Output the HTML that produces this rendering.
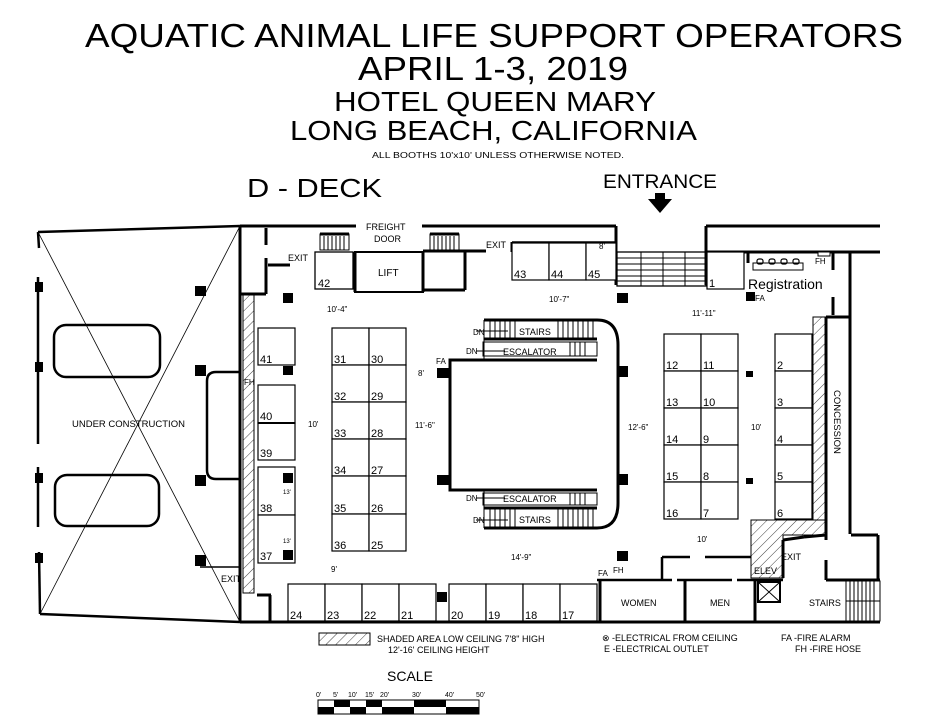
<!DOCTYPE html>
<html><head><meta charset="utf-8"><style>
html,body{margin:0;padding:0;background:#fff}
svg{display:block}
text{font-family:"Liberation Sans",Arial,sans-serif;fill:#000}
</style></head><body>
<svg width="933" height="719" viewBox="0 0 933 719" xmlns="http://www.w3.org/2000/svg">
<defs>
<pattern id="h" patternUnits="userSpaceOnUse" width="7" height="7" patternTransform="rotate(45)">
<rect width="7" height="7" fill="#fff"/><line x1="0" y1="0" x2="0" y2="7" stroke="#444" stroke-width="1"/>
</pattern>
</defs>
<!-- titles -->
<text x="85" y="47" font-size="33" textLength="818" lengthAdjust="spacingAndGlyphs">AQUATIC ANIMAL LIFE SUPPORT OPERATORS</text>
<text x="358" y="80" font-size="33" textLength="270" lengthAdjust="spacingAndGlyphs">APRIL 1-3, 2019</text>
<text x="334" y="111" font-size="28" textLength="322" lengthAdjust="spacingAndGlyphs">HOTEL QUEEN MARY</text>
<text x="290" y="140" font-size="28" textLength="407" lengthAdjust="spacingAndGlyphs">LONG BEACH, CALIFORNIA</text>
<text x="372" y="158" font-size="8" textLength="252" lengthAdjust="spacingAndGlyphs">ALL BOOTHS 10'x10' UNLESS OTHERWISE NOTED.</text>
<text x="247" y="197" font-size="26" textLength="135" lengthAdjust="spacingAndGlyphs">D - DECK</text>
<text x="603" y="188" font-size="19" textLength="114" lengthAdjust="spacingAndGlyphs">ENTRANCE</text>
<polygon points="648,199 672,199 660,213" fill="#000"/>
<rect x="655" y="193" width="10" height="7" fill="#000"/>

<g fill="none" stroke="#000">
<!-- under construction area -->
<polyline points="38,232 240,226" stroke-width="2.5"/>
<polyline points="40,614 240,622" stroke-width="2.5"/>
<line x1="38" y1="232" x2="240" y2="622" stroke-width="0.8"/>
<line x1="40" y1="614" x2="240" y2="226" stroke-width="0.8"/>
<line x1="38" y1="232" x2="39" y2="248" stroke-width="2.5"/>
<line x1="38" y1="277" x2="38" y2="444" stroke-width="2.5"/>
<line x1="38" y1="467" x2="38" y2="527" stroke-width="2.5"/>
<line x1="39" y1="552" x2="40" y2="614" stroke-width="2.5"/>
<rect x="54" y="325" width="106" height="52" rx="12" stroke-width="2.5"/>
<rect x="55" y="475" width="104" height="51" rx="12" stroke-width="2.5"/>
<path d="M241,372 H216 Q207,372 207,381 V470 Q207,479 216,479 H241" stroke-width="2.5"/>
<line x1="200" y1="567" x2="241" y2="567" stroke-width="1.5"/>
<!-- main walls -->
<line x1="240" y1="226" x2="356" y2="226" stroke-width="3"/>
<line x1="422" y1="226" x2="616" y2="226" stroke-width="3"/>
<line x1="706" y1="226" x2="880" y2="226" stroke-width="3"/>
<line x1="706" y1="252" x2="880" y2="252" stroke-width="3"/>
<line x1="240" y1="226" x2="240" y2="622" stroke-width="3"/>
<line x1="240" y1="622" x2="880" y2="622" stroke-width="3"/>
<line x1="241" y1="294" x2="266" y2="294" stroke-width="3"/>
<line x1="266" y1="228" x2="266" y2="245" stroke-width="3"/>
<line x1="266" y1="258" x2="266" y2="294" stroke-width="3"/>
<line x1="268" y1="265" x2="290" y2="265" stroke-width="3"/>
<line x1="466" y1="226" x2="466" y2="247" stroke-width="0"/>
<line x1="616" y1="226" x2="616" y2="285" stroke-width="3"/>
<line x1="706" y1="226" x2="706" y2="285" stroke-width="3"/>
<line x1="446" y1="251" x2="466" y2="251" stroke-width="3"/>
<line x1="466" y1="251" x2="512" y2="251" stroke-width="0"/>
<line x1="466" y1="251" x2="486" y2="251" stroke-width="3"/>
<line x1="512" y1="242" x2="512" y2="252" stroke-width="3"/>
<line x1="512" y1="242" x2="616" y2="242" stroke-width="1.5"/>
<!-- freight stairs -->
<rect x="320" y="234" width="29" height="16" stroke-width="1"/>
<rect x="430" y="234" width="29" height="16" stroke-width="1"/>
<line x1="320" y1="234" x2="349" y2="234" stroke-width="3"/>
<line x1="430" y1="234" x2="459" y2="234" stroke-width="3"/>
<!-- lift -->
<rect x="355" y="252" width="68" height="40" stroke-width="2"/>
<line x1="355" y1="252" x2="355" y2="292" stroke-width="3"/>
<line x1="423" y1="252" x2="423" y2="292" stroke-width="3"/>
<line x1="423" y1="251" x2="465" y2="251" stroke-width="3"/>
<line x1="465" y1="251" x2="465" y2="290" stroke-width="3"/>
<line x1="423" y1="290" x2="465" y2="290" stroke-width="3"/>
<rect x="315" y="252" width="38" height="37" stroke-width="1.3"/>
<!-- entrance stairs -->
<rect x="617" y="252" width="89" height="34" stroke-width="1.3"/>
</g>
<g stroke="#000" stroke-width="1">
<line x1="617" y1="258" x2="706" y2="258"/><line x1="617" y1="264" x2="706" y2="264"/><line x1="617" y1="270" x2="706" y2="270"/><line x1="617" y1="276" x2="706" y2="276"/><line x1="617" y1="281" x2="706" y2="281"/>
<line x1="641" y1="252" x2="641" y2="286"/><line x1="663" y1="252" x2="663" y2="286"/><line x1="685" y1="252" x2="685" y2="286"/>
</g>
<!-- freight stair rungs -->
<g stroke="#000" stroke-width="1">
<line x1="324" y1="236" x2="324" y2="250"/><line x1="328" y1="236" x2="328" y2="250"/><line x1="332" y1="236" x2="332" y2="250"/><line x1="336" y1="236" x2="336" y2="250"/><line x1="340" y1="236" x2="340" y2="250"/><line x1="344" y1="236" x2="344" y2="250"/>
<line x1="434" y1="236" x2="434" y2="250"/><line x1="438" y1="236" x2="438" y2="250"/><line x1="442" y1="236" x2="442" y2="250"/><line x1="446" y1="236" x2="446" y2="250"/><line x1="450" y1="236" x2="450" y2="250"/><line x1="454" y1="236" x2="454" y2="250"/>
</g>

<!-- hatched areas -->
<rect x="243" y="295" width="11" height="298" fill="url(#h)" stroke="#000" stroke-width="1"/>
<rect x="813" y="317" width="13" height="218" fill="url(#h)" stroke="#000" stroke-width="1"/>
<polygon points="751,520 826,520 826,535 783,535 783,578 751,578" fill="url(#h)" stroke="#000" stroke-width="1"/>

<!-- right side walls -->
<g fill="none" stroke="#000" stroke-width="3">
<line x1="850" y1="252" x2="850" y2="534"/>
<line x1="826" y1="317" x2="850" y2="317"/>
<line x1="826" y1="317" x2="826" y2="540"/>
<line x1="833" y1="252" x2="833" y2="270"/>
<line x1="833" y1="297" x2="833" y2="315"/>
<line x1="748" y1="252" x2="748" y2="263"/>
<line x1="851" y1="535" x2="878" y2="535"/><line x1="878" y1="535" x2="878" y2="580"/>
<line x1="783" y1="540" x2="804" y2="537"/><line x1="804" y1="537" x2="826" y2="535"/>
<line x1="783" y1="540" x2="783" y2="578"/>
<line x1="826" y1="560" x2="826" y2="580"/>
<line x1="826" y1="580" x2="880" y2="580"/>
<line x1="597" y1="580" x2="672" y2="580" stroke-width="2.5"/>
<line x1="677" y1="580" x2="732" y2="580" stroke-width="2.5"/>
<line x1="737" y1="580" x2="783" y2="580" stroke-width="2.5"/>
<line x1="600" y1="580" x2="600" y2="622"/>
<line x1="685" y1="580" x2="685" y2="622"/>
<line x1="755" y1="580" x2="755" y2="622"/>
<line x1="662" y1="557" x2="690" y2="557" stroke-width="2.5"/>
<line x1="705" y1="557" x2="751" y2="557" stroke-width="2.5"/>
<line x1="662" y1="557" x2="662" y2="580" stroke-width="2.5"/>
<line x1="602" y1="622" x2="602" y2="622"/>
</g>
<rect x="758" y="582" width="22" height="20" fill="#fff" stroke="#000" stroke-width="2"/>
<line x1="758" y1="582" x2="780" y2="602" stroke="#000"/><line x1="780" y1="582" x2="758" y2="602" stroke="#000"/>
<rect x="846" y="581" width="34" height="40" fill="#fff" stroke="#000" stroke-width="1"/>
<g stroke="#000" stroke-width="1"><line x1="850" y1="581" x2="850" y2="621"/><line x1="854" y1="581" x2="854" y2="621"/><line x1="858" y1="581" x2="858" y2="621"/><line x1="862" y1="581" x2="862" y2="621"/><line x1="866" y1="581" x2="866" y2="621"/><line x1="870" y1="581" x2="870" y2="621"/><line x1="874" y1="581" x2="874" y2="621"/><line x1="846" y1="601" x2="880" y2="601"/></g>

<!-- registration table -->
<rect x="753" y="263" width="50" height="7" fill="#fff" stroke="#000" stroke-width="1"/>
<g fill="none" stroke="#000" stroke-width="1.2"><rect x="757" y="259" width="6" height="5" rx="2"/><rect x="769" y="259" width="6" height="5" rx="2"/><rect x="781" y="259" width="6" height="5" rx="2"/><rect x="793" y="259" width="6" height="5" rx="2"/></g>
<rect x="818" y="252" width="12" height="4" fill="#fff" stroke="#000"/>

<!-- central structure -->
<g fill="none" stroke="#000">
<path d="M484,320 H597 Q618,320 618,345 V503 Q618,528 597,528 H484" stroke-width="3"/>
<polyline points="597,360 450,360 450,490 597,490" stroke-width="3"/>
<line x1="484" y1="339" x2="597" y2="339" stroke-width="3"/>
<line x1="484" y1="508" x2="597" y2="508" stroke-width="3"/>
<line x1="484" y1="320" x2="484" y2="360" stroke-width="1"/>
<line x1="484" y1="490" x2="484" y2="528" stroke-width="1"/>
<rect x="483" y="342" width="114" height="14" stroke-width="1"/>
<rect x="483" y="493" width="114" height="12" stroke-width="1"/>
</g>
<g stroke="#000" stroke-width="1">
<line x1="490" y1="321" x2="490" y2="338"/><line x1="495" y1="321" x2="495" y2="338"/><line x1="500" y1="321" x2="500" y2="338"/><line x1="505" y1="321" x2="505" y2="338"/><line x1="510" y1="321" x2="510" y2="338"/><line x1="515" y1="321" x2="515" y2="338"/><line x1="558" y1="321" x2="558" y2="338"/><line x1="563" y1="321" x2="563" y2="338"/><line x1="568" y1="321" x2="568" y2="338"/><line x1="573" y1="321" x2="573" y2="338"/><line x1="578" y1="321" x2="578" y2="338"/><line x1="583" y1="321" x2="583" y2="338"/><line x1="588" y1="321" x2="588" y2="338"/><line x1="593" y1="321" x2="593" y2="338"/>
<line x1="490" y1="509" x2="490" y2="527"/><line x1="495" y1="509" x2="495" y2="527"/><line x1="500" y1="509" x2="500" y2="527"/><line x1="505" y1="509" x2="505" y2="527"/><line x1="510" y1="509" x2="510" y2="527"/><line x1="515" y1="509" x2="515" y2="527"/><line x1="558" y1="509" x2="558" y2="527"/><line x1="563" y1="509" x2="563" y2="527"/><line x1="568" y1="509" x2="568" y2="527"/><line x1="573" y1="509" x2="573" y2="527"/><line x1="578" y1="509" x2="578" y2="527"/><line x1="583" y1="509" x2="583" y2="527"/><line x1="588" y1="509" x2="588" y2="527"/><line x1="593" y1="509" x2="593" y2="527"/>
<line x1="570" y1="342" x2="570" y2="356"/><line x1="575" y1="342" x2="575" y2="356"/><line x1="580" y1="342" x2="580" y2="356"/><line x1="585" y1="342" x2="585" y2="356"/>
<line x1="570" y1="493" x2="570" y2="505"/><line x1="575" y1="493" x2="575" y2="505"/><line x1="580" y1="493" x2="580" y2="505"/><line x1="585" y1="493" x2="585" y2="505"/>
<line x1="476" y1="331" x2="508" y2="331"/><line x1="476" y1="351" x2="505" y2="351"/><line x1="476" y1="498" x2="505" y2="498"/><line x1="476" y1="520" x2="508" y2="520"/>
</g>

<!-- booths -->
<g fill="#fff" stroke="#000" stroke-width="1.2">
<rect x="258" y="328" width="37" height="37"/>
<rect x="258" y="385" width="37" height="38"/><rect x="258" y="423" width="37" height="37"/>
<rect x="258" y="467" width="37" height="48"/><rect x="258" y="515" width="37" height="48"/>
<rect x="332" y="328" width="37" height="37"/><rect x="369" y="328" width="37" height="37"/>
<rect x="332" y="365" width="37" height="37"/><rect x="369" y="365" width="37" height="37"/>
<rect x="332" y="402" width="37" height="37"/><rect x="369" y="402" width="37" height="37"/>
<rect x="332" y="439" width="37" height="37"/><rect x="369" y="439" width="37" height="37"/>
<rect x="332" y="476" width="37" height="38"/><rect x="369" y="476" width="37" height="38"/>
<rect x="332" y="514" width="37" height="37"/><rect x="369" y="514" width="37" height="37"/>
<rect x="512" y="243" width="37" height="37"/><rect x="549" y="243" width="37" height="37"/><rect x="586" y="243" width="30" height="37"/>
<rect x="707" y="252" width="37" height="37"/>
<rect x="664" y="334" width="37" height="37"/><rect x="701" y="334" width="37" height="37"/>
<rect x="664" y="371" width="37" height="37"/><rect x="701" y="371" width="37" height="37"/>
<rect x="664" y="408" width="37" height="37"/><rect x="701" y="408" width="37" height="37"/>
<rect x="664" y="445" width="37" height="37"/><rect x="701" y="445" width="37" height="37"/>
<rect x="664" y="482" width="37" height="37"/><rect x="701" y="482" width="37" height="37"/>
<rect x="775" y="334" width="37" height="37"/><rect x="775" y="371" width="37" height="37"/><rect x="775" y="408" width="37" height="37"/><rect x="775" y="445" width="37" height="37"/><rect x="775" y="482" width="37" height="37"/>
<rect x="288" y="584" width="37" height="37"/><rect x="325" y="584" width="37" height="37"/><rect x="362" y="584" width="37" height="37"/><rect x="399" y="584" width="37" height="37"/>
<rect x="449" y="584" width="37" height="37"/><rect x="486" y="584" width="37" height="37"/><rect x="523" y="584" width="37" height="37"/><rect x="560" y="584" width="37" height="37"/>
</g>
<line x1="258" y1="423" x2="295" y2="423" stroke="#000" stroke-width="2"/>
<g stroke="#000" stroke-width="3"><line x1="257" y1="595" x2="271" y2="595"/><line x1="270" y1="595" x2="270" y2="621"/></g>

<!-- columns -->
<g fill="#000">
<rect x="35" y="282" width="8" height="10"/><rect x="35" y="362" width="8" height="10"/><rect x="35" y="473" width="8" height="10"/><rect x="35" y="553" width="8" height="10"/>
<rect x="195" y="286" width="11" height="10"/><rect x="195" y="365" width="11" height="11"/><rect x="195" y="475" width="11" height="11"/><rect x="195" y="555" width="11" height="11"/>
<rect x="283" y="293" width="10" height="10"/><rect x="283" y="366" width="10" height="9"/><rect x="283" y="473" width="10" height="10"/><rect x="283" y="550" width="10" height="10"/>
<rect x="437" y="368" width="12" height="10"/><rect x="437" y="475" width="12" height="10"/>
<rect x="437" y="592" width="10" height="10"/>
<rect x="617" y="293" width="11" height="10"/><rect x="617" y="366" width="11" height="11"/><rect x="617" y="474" width="11" height="11"/><rect x="617" y="551" width="11" height="10"/>
<rect x="746" y="292" width="9" height="9"/><rect x="746" y="371" width="7" height="6"/><rect x="746" y="478" width="7" height="6"/>
</g>

<!-- labels -->
<g font-size="10">
<text x="72" y="427" font-size="9.5">UNDER CONSTRUCTION</text>
<text x="366" y="230" font-size="9">FREIGHT</text><text x="374" y="242" font-size="9">DOOR</text>
<text x="378" y="276" font-size="10">LIFT</text>
<text x="288" y="261" font-size="9">EXIT</text>
<text x="486" y="248" font-size="9">EXIT</text>
<text x="221" y="582" font-size="9">EXIT</text>
<text x="781" y="560" font-size="9">EXIT</text>
<text x="244" y="385" font-size="8">FH</text>
<text x="598" y="576" font-size="8">FA</text><text x="613" y="573" font-size="8">FH</text>
<text x="755" y="301" font-size="8">FA</text>
<text x="815" y="264" font-size="8">FH</text>
<text x="436" y="364" font-size="8">FA</text>
<text x="748" y="289" font-size="14">Registration</text>
<text x="621" y="606" font-size="9">WOMEN</text>
<text x="710" y="606" font-size="9">MEN</text>
<text x="809" y="606" font-size="9">STAIRS</text>
<text x="754" y="574" font-size="9">ELEV</text>
<text transform="translate(834,390) rotate(90)" font-size="9.5">CONCESSION</text>
<text x="519" y="335" font-size="9">STAIRS</text><text x="503" y="355" font-size="9">ESCALATOR</text>
<text x="503" y="502" font-size="9">ESCALATOR</text><text x="519" y="523" font-size="9">STAIRS</text>
<text x="473" y="335" font-size="8">DN</text><text x="466" y="354" font-size="8">DN</text>
<text x="466" y="501" font-size="8">DN</text><text x="473" y="523" font-size="8">DN</text>
<text x="327" y="312" font-size="8">10'-4"</text>
<text x="549" y="302" font-size="8">10'-7"</text>
<text x="692" y="316" font-size="8">11'-11"</text>
<text x="418" y="376" font-size="8">8'</text>
<text x="599" y="249" font-size="8">8'</text>
<text x="308" y="427" font-size="8">10'</text>
<text x="415" y="428" font-size="8">11'-6"</text>
<text x="628" y="430" font-size="8">12'-6"</text>
<text x="751" y="430" font-size="8">10'</text>
<text x="697" y="542" font-size="8">10'</text>
<text x="511" y="560" font-size="8">14'-9"</text>
<text x="331" y="572" font-size="8">9'</text>
<text x="283" y="494" font-size="6">13'</text><text x="283" y="543" font-size="6">13'</text>
</g>
<g font-size="11">
<text x="260" y="363">41</text><text x="260" y="420">40</text><text x="260" y="457">39</text><text x="260" y="512">38</text><text x="260" y="560">37</text>
<text x="334" y="363">31</text><text x="371" y="363">30</text>
<text x="334" y="400">32</text><text x="371" y="400">29</text>
<text x="334" y="437">33</text><text x="371" y="437">28</text>
<text x="334" y="474">34</text><text x="371" y="474">27</text>
<text x="334" y="512">35</text><text x="371" y="512">26</text>
<text x="334" y="549">36</text><text x="371" y="549">25</text>
<text x="318" y="287">42</text>
<text x="514" y="278">43</text><text x="551" y="278">44</text><text x="588" y="278">45</text>
<text x="709" y="287">1</text>
<text x="666" y="369">12</text><text x="703" y="369">11</text>
<text x="666" y="406">13</text><text x="703" y="406">10</text>
<text x="666" y="443">14</text><text x="703" y="443">9</text>
<text x="666" y="480">15</text><text x="703" y="480">8</text>
<text x="666" y="517">16</text><text x="703" y="517">7</text>
<text x="777" y="369">2</text><text x="777" y="406">3</text><text x="777" y="443">4</text><text x="777" y="480">5</text><text x="777" y="517">6</text>
<text x="290" y="619">24</text><text x="327" y="619">23</text><text x="364" y="619">22</text><text x="401" y="619">21</text>
<text x="451" y="619">20</text><text x="488" y="619">19</text><text x="525" y="619">18</text><text x="562" y="619">17</text>
</g>

<!-- legend -->
<rect x="319" y="633" width="51" height="12" fill="url(#h)" stroke="#000" stroke-width="1"/>
<text x="377" y="642" font-size="9">SHADED AREA LOW CEILING 7'8" HIGH</text>
<text x="388" y="653" font-size="9">12'-16' CEILING HEIGHT</text>
<text x="602" y="641" font-size="9">⊗ -ELECTRICAL FROM CEILING</text>
<text x="604" y="652" font-size="9">E  -ELECTRICAL OUTLET</text>
<text x="781" y="641" font-size="9">FA -FIRE ALARM</text>
<text x="795" y="652" font-size="9">FH -FIRE HOSE</text>
<text x="387" y="681" font-size="14">SCALE</text>
<g font-size="7"><text x="316" y="697">0'</text><text x="333" y="697">5'</text><text x="348" y="697">10'</text><text x="365" y="697">15'</text><text x="380" y="697">20'</text><text x="412" y="697">30'</text><text x="445" y="697">40'</text><text x="476" y="697">50'</text></g>
<rect x="318" y="700" width="161" height="14" fill="#fff" stroke="#000" stroke-width="1"/>
<g fill="#000">
<rect x="318" y="707" width="16" height="7"/><rect x="334" y="700" width="16" height="7"/><rect x="350" y="707" width="16" height="7"/><rect x="366" y="700" width="16" height="7"/><rect x="382" y="707" width="32" height="7"/><rect x="414" y="700" width="32" height="7"/><rect x="446" y="707" width="33" height="7"/>
</g>
</svg>
</body></html>
